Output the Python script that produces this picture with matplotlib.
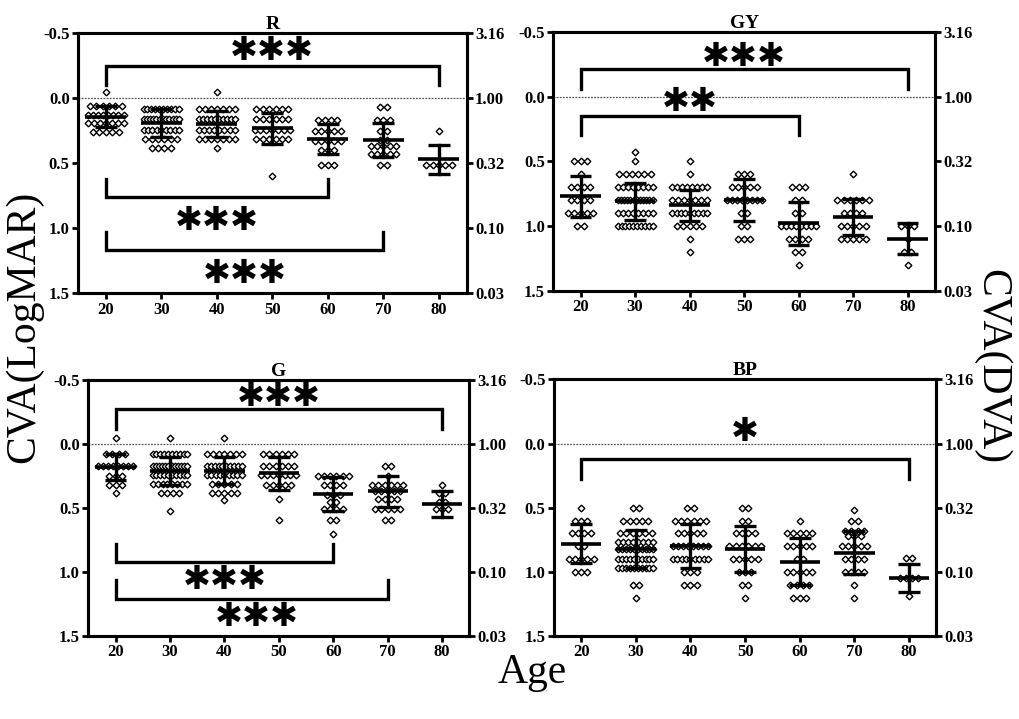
import matplotlib.pyplot as plt
import numpy as np

plt.rcParams["font.family"] = ["Liberation Serif", "DejaVu Sans"]
plt.rcParams["axes.unicode_minus"] = False

ages = [20, 30, 40, 50, 60, 70, 80]
logmar_ticks = [-0.5, 0.0, 0.5, 1.0, 1.5]
logmar_labels = ["-0.5", "0.0", "0.5", "1.0", "1.5"]

# individual subjects per age group, as (level, count) rows
r_levels = [[-0.05, 0.06, 0.13, 0.19, 0.26],
            [0.08, 0.16, 0.24, 0.31, 0.38],
            [-0.05, 0.08, 0.16, 0.24, 0.31, 0.38],
            [0.08, 0.16, 0.24, 0.31, 0.60],
            [0.17, 0.25, 0.33, 0.40, 0.51],
            [0.07, 0.17, 0.25, 0.32, 0.37, 0.43, 0.51],
            [0.25, 0.51]]
r_counts = [[1, 6, 8, 7, 5],
            [10, 12, 9, 6, 4],
            [1, 7, 10, 8, 7, 1],
            [6, 6, 7, 6, 1],
            [4, 5, 5, 3, 3],
            [2, 3, 2, 2, 5, 5, 2],
            [1, 5]]
r_means = [0.14, 0.19, 0.20, 0.23, 0.31, 0.32, 0.47]
r_sds = [0.08, 0.11, 0.10, 0.12, 0.115, 0.13, 0.11]

gy_levels = [[0.5, 0.6, 0.7, 0.8, 0.9, 1.0],
             [0.43, 0.5, 0.6, 0.7, 0.8, 0.9, 1.0],
             [0.5, 0.6, 0.7, 0.8, 0.9, 1.0, 1.1, 1.2],
             [0.6, 0.7, 0.8, 0.9, 1.0, 1.1],
             [0.7, 0.8, 0.9, 1.0, 1.1, 1.2, 1.3],
             [0.6, 0.8, 0.9, 1.0, 1.1],
             [1.0, 1.1, 1.2, 1.3]]
gy_counts = [[3, 1, 4, 4, 5, 2],
             [1, 1, 6, 8, 12, 8, 10],
             [1, 1, 8, 7, 9, 5, 1, 1],
             [3, 5, 8, 2, 2, 3],
             [3, 2, 2, 8, 4, 2, 1],
             [1, 6, 4, 5, 5],
             [3, 1, 2, 1]]
gy_means = [0.77, 0.81, 0.84, 0.80, 0.98, 0.93, 1.10]
gy_sds = [0.16, 0.14, 0.12, 0.16, 0.165, 0.14, 0.12]

g_levels = [[-0.05, 0.08, 0.17, 0.25, 0.32, 0.38],
            [-0.05, 0.08, 0.17, 0.24, 0.31, 0.38, 0.52],
            [-0.05, 0.08, 0.17, 0.24, 0.31, 0.38, 0.44],
            [0.08, 0.17, 0.24, 0.32, 0.43, 0.59],
            [0.25, 0.32, 0.40, 0.45, 0.51, 0.59, 0.70],
            [0.17, 0.25, 0.32, 0.37, 0.43, 0.51, 0.59],
            [0.32, 0.38, 0.45, 0.51]]
g_counts = [[1, 4, 8, 3, 3, 1],
            [1, 10, 12, 10, 8, 4, 1],
            [1, 7, 10, 9, 5, 5, 1],
            [6, 6, 7, 5, 1, 1],
            [6, 4, 3, 2, 4, 2, 1],
            [2, 1, 6, 5, 4, 5, 2],
            [1, 2, 2, 3]]
g_means = [0.18, 0.21, 0.21, 0.23, 0.39, 0.37, 0.47]
g_sds = [0.10, 0.11, 0.105, 0.13, 0.13, 0.12, 0.10]

bp_levels = [[0.5, 0.6, 0.7, 0.8, 0.9, 1.0],
             [0.5, 0.6, 0.7, 0.77, 0.82, 0.9, 0.97, 1.1, 1.2],
             [0.5, 0.6, 0.7, 0.8, 0.9, 1.0, 1.1],
             [0.5, 0.6, 0.7, 0.8, 0.9, 1.0, 1.1, 1.2],
             [0.6, 0.7, 0.8, 0.9, 1.0, 1.1, 1.2],
             [0.52, 0.6, 0.68, 0.72, 0.8, 0.9, 1.0, 1.1, 1.2],
             [0.89, 1.05, 1.19]]
bp_counts = [[1, 3, 4, 2, 5, 3],
             [2, 5, 6, 8, 10, 10, 10, 2, 1],
             [2, 6, 5, 8, 9, 3, 3],
             [2, 2, 4, 6, 5, 3, 2, 1],
             [1, 5, 5, 2, 5, 4, 3],
             [1, 2, 4, 3, 5, 4, 4, 1, 1],
             [2, 4, 1]]
bp_means = [0.78, 0.82, 0.80, 0.82, 0.92, 0.85, 1.05]
bp_sds = [0.15, 0.15, 0.17, 0.18, 0.18, 0.17, 0.11]

# significance brackets: (from age, to age, bar level, leg end, stars, star x, star y)
r_brackets = [(20, 80, -0.25, -0.10, "***", 50, -0.37),
              (20, 60, 0.76, 0.62, "***", 40, 0.94),
              (20, 70, 1.17, 1.03, "***", 45, 1.35)]
gy_brackets = [(20, 80, -0.21, -0.06, "***", 50, -0.31),
               (20, 60, 0.15, 0.30, "**", 40, 0.035)]
g_brackets = [(20, 80, -0.27, -0.115, "***", 50, -0.37),
              (20, 60, 0.92, 0.78, "***", 40, 1.06),
              (20, 70, 1.21, 1.06, "***", 46, 1.35)]
bp_brackets = [(20, 80, 0.12, 0.28, "*", 50, -0.09)]


def row_offsets(n):
    # spread subjects sharing a value side by side, squeezing crowded rows
    if n == 1:
        return np.zeros(1)
    step = min(1.15, 6.4 / (n - 1))
    return (np.arange(n) - (n - 1) / 2) * step


def draw_panel(rect, title, levels, counts, means, sds, brackets):
    ax = fig.add_axes(rect)
    for age, lv, ct in zip(ages, levels, counts):
        for y, n in zip(lv, ct):
            ax.plot(age + row_offsets(n), [y] * n, linestyle="none", marker="D",
                    markersize=3.4, markerfacecolor="white", markeredgecolor="black",
                    markeredgewidth=1.0, zorder=3)
    for age, m, s in zip(ages, means, sds):
        ax.plot([age - 3.7, age + 3.7], [m, m], color="black", lw=2.6, zorder=4,
                solid_capstyle="butt")
        ax.plot([age, age], [m - s, m + s], color="black", lw=2.4, zorder=4)
        for cap in (m - s, m + s):
            ax.plot([age - 2.0, age + 2.0], [cap, cap], color="black", lw=2.4,
                    zorder=4, solid_capstyle="butt")

    ax.axhline(0.0, color="#555555", lw=0.9, linestyle=(0, (1.5, 1)), zorder=1)

    for x1, x2, bar, leg, stars, sx, sy in brackets:
        ax.plot([x1, x1, x2, x2], [leg, bar, bar, leg], color="black", lw=2.4,
                solid_joinstyle="miter", zorder=2)
        ax.text(sx, sy, "\u2731" * len(stars), family="DejaVu Sans", fontsize=24,
                ha="center", va="center", zorder=5)

    ax.set_xlim(15, 85)
    ax.set_ylim(1.5, -0.5)
    ax.set_xticks(ages)
    ax.set_xticklabels([str(a) for a in ages], fontweight="bold", fontsize=12)
    ax.set_yticks(logmar_ticks)
    ax.set_yticklabels(logmar_labels, fontweight="bold", fontsize=12)
    ax.tick_params(direction="out", length=4, width=2, pad=2)
    for sp in ax.spines.values():
        sp.set_linewidth(2.2)
    ax.set_title(title, fontweight="bold", fontsize=14, pad=3)

    dva = ax.twinx()
    dva.set_ylim(1.5, -0.5)
    dva.set_yticks(logmar_ticks)
    dva.set_yticklabels(["%.2f" % 10 ** (-v) for v in logmar_ticks],
                        fontweight="bold", fontsize=12)
    dva.tick_params(direction="out", length=4, width=2, pad=2)
    for sp in dva.spines.values():
        sp.set_linewidth(2.2)
    return ax


fig = plt.figure(figsize=(10.2, 7.19), dpi=100)

draw_panel([0.0765, 0.592, 0.381, 0.3616], "R", r_levels, r_counts, r_means, r_sds, r_brackets)
draw_panel([0.5425, 0.5957, 0.374, 0.360], "GY", gy_levels, gy_counts, gy_means, gy_sds, gy_brackets)
draw_panel([0.0866, 0.1154, 0.3735, 0.356], "G", g_levels, g_counts, g_means, g_sds, g_brackets)
draw_panel([0.543, 0.1154, 0.375, 0.357], "BP", bp_levels, bp_counts, bp_means, bp_sds, bp_brackets)

fig.text(0.024, 0.545, "CVA(LogMAR)", rotation=90, fontsize=30, ha="center", va="center")
fig.text(0.972, 0.49, "CVA(DVA)", rotation=-90, fontsize=30, ha="center", va="center")
fig.text(0.522, 0.065, "Age", fontsize=30, ha="center", va="center")

fig.savefig("out.png", dpi=100)
